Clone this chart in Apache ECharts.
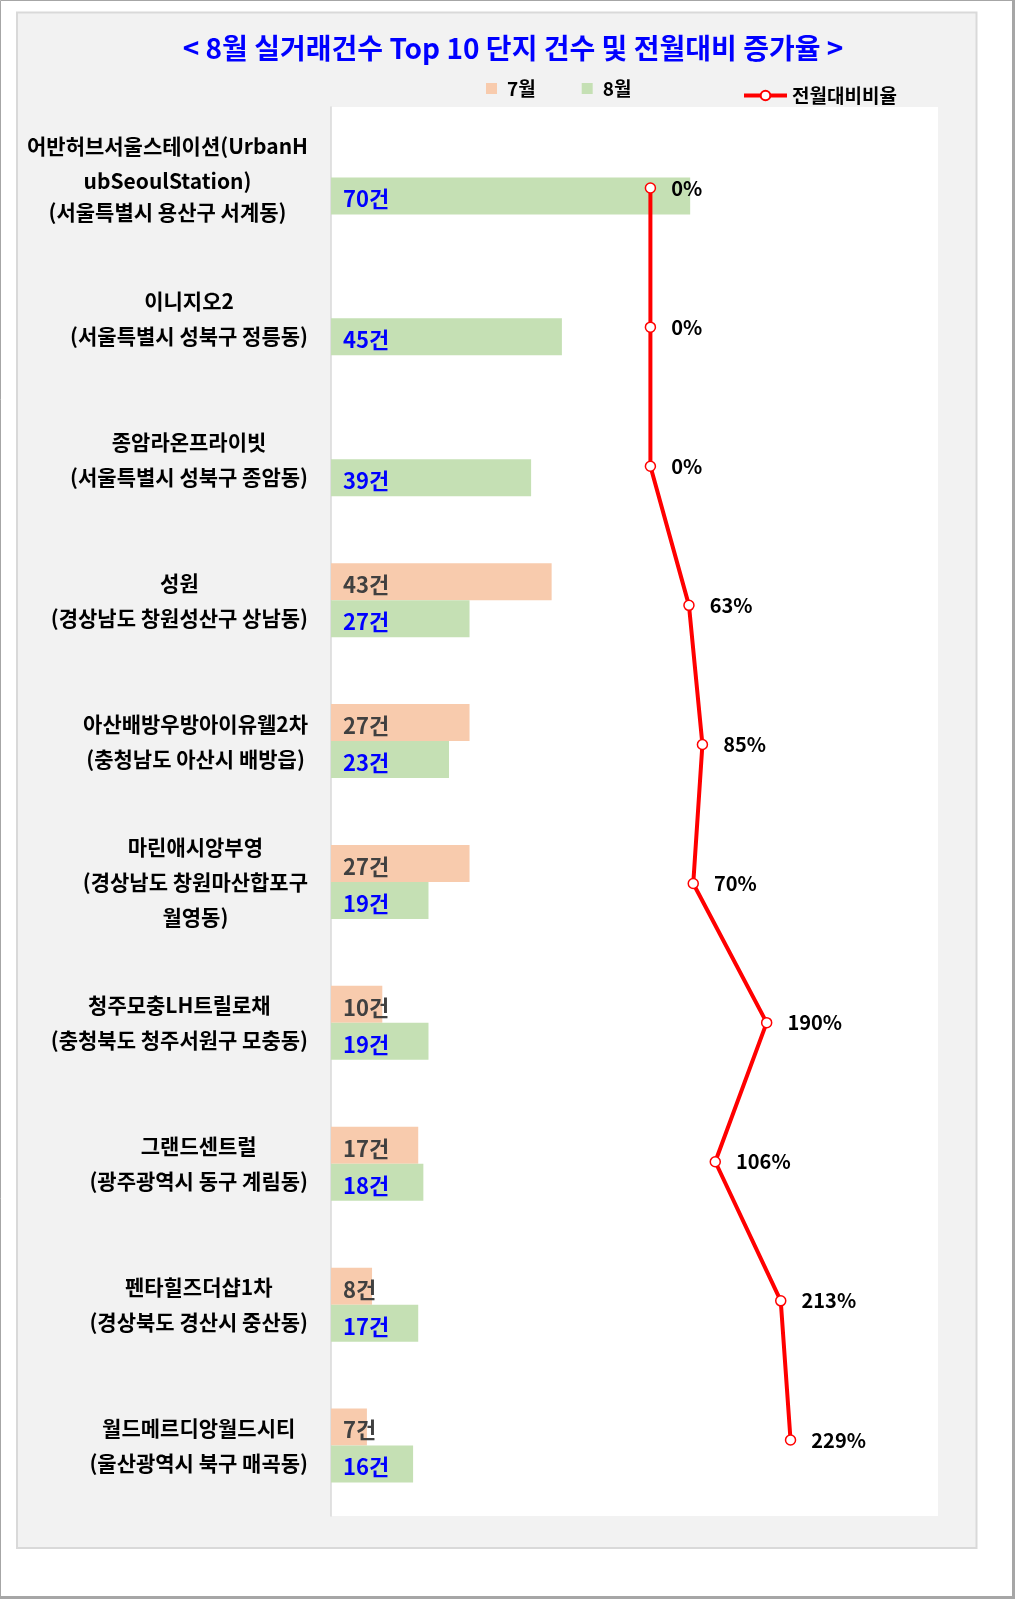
<!DOCTYPE html>
<html>
<head>
<meta charset="utf-8">
<script src="https://cdn.jsdelivr.net/npm/echarts@6/dist/echarts.min.js"></script>
<style>
	body { margin: 0; background: #fff; }
	#chart { width: 1015px; height: 1599px; }
</style>
</head>
<body>
<div id="chart"></div>
<script>
var complexes = [
	'어반허브서울스테이션(UrbanH\nubSeoulStation)\n(서울특별시 용산구 서계동)',
	'이니지오2\n(서울특별시 성북구 정릉동)',
	'종암라온프라이빗\n(서울특별시 성북구 종암동)',
	'성원\n(경상남도 창원성산구 상남동)',
	'아산배방우방아이유웰2차\n(충청남도 아산시 배방읍)',
	'마린애시앙부영\n(경상남도 창원마산합포구\n월영동)',
	'청주모충LH트릴로채\n(충청북도 청주서원구 모충동)',
	'그랜드센트럴\n(광주광역시 동구 계림동)',
	'펜타힐즈더샵1차\n(경상북도 경산시 중산동)',
	'월드메르디앙월드시티\n(울산광역시 북구 매곡동)'
];
var julyCounts = [null, null, null, 43, 27, 27, 10, 17, 8, 7];
var augCounts = [70, 45, 39, 27, 23, 19, 19, 18, 17, 16];
var ratePct = [0, 0, 0, 63, 85, 70, 190, 106, 213, 229];

var font = '"Noto Sans CJK KR", "Noto Sans", sans-serif';

var myChart = echarts.init(document.getElementById('chart'));

var option = {
	animation: false,
	textStyle: { fontFamily: font },
	graphic: [
		// 바깥 테두리
		{ type: 'rect', z: -10, shape: { x: 0.5, y: 0.5, width: 1013, height: 1597 },
			style: { fill: '#fff', stroke: '#A6A6A6', lineWidth: 1 } },
		{ type: 'rect', z: -9, shape: { x: 1012, y: 0, width: 3, height: 1599 }, style: { fill: '#A6A6A6' } },
		{ type: 'rect', z: -9, shape: { x: 0, y: 1596, width: 1015, height: 3 }, style: { fill: '#A6A6A6' } },
		// 회색 패널
		{ type: 'rect', z: -8, shape: { x: 17, y: 12.5, width: 959.5, height: 1535.5 },
			style: { fill: '#F2F2F2', stroke: '#D9D9D9', lineWidth: 2 } }
	],
	title: {
		text: '< 8월 실거래건수 Top 10 단지 건수 및 전월대비 증가율 >',
		left: 513,
		top: 34,
		padding: 0,
		textAlign: 'center',
		textStyle: {
			fontFamily: font,
			fontSize: 28,
			fontWeight: 'bold',
			color: '#0000FF'
		}
	},
	legend: [{
		data: ['7월', '8월'],
		left: 486,
		top: 79,
		padding: 0,
		icon: 'rect',
		itemWidth: 11,
		itemHeight: 11,
		itemGap: 46,
		textStyle: {
			fontFamily: font,
			fontSize: 19,
			fontWeight: 'bold',
			color: '#000',
			padding: [0, 0, 0, 5]
		}
	}, {
		data: ['전월대비비율'],
		left: 742,
		top: 86,
		padding: 0,
		itemWidth: 43,
		itemHeight: 12,
		lineStyle: { width: 4 },
		itemStyle: { borderWidth: 2 },
		textStyle: {
			fontFamily: font,
			fontSize: 19,
			fontWeight: 'bold',
			color: '#000'
		}
	}],
	grid: [{
		left: 331,
		top: 107,
		width: 607,
		height: 1409,
		show: true,
		backgroundColor: '#fff',
		borderWidth: 0
	}, {
		left: 331,
		top: 118.5,
		width: 607,
		height: 1391
	}],
	xAxis: [{
		type: 'value',
		gridIndex: 0,
		min: 0,
		max: 118.3,
		show: false
	}, {
		type: 'value',
		gridIndex: 1,
		min: -522,
		max: 470,
		show: false
	}],
	yAxis: [{
		type: 'category',
		gridIndex: 0,
		inverse: true,
		data: complexes,
		axisLine: { lineStyle: { color: '#D9D9D9', width: 1.5 } },
		axisTick: { show: false },
		axisLabel: {
			interval: 0,
			margin: 23,
			formatter: function(value, idx) {
				if (idx === 0) {
					// 첫 항목은 줄 간격이 좁고 첫 줄만 조금 떨어져 있음
					var lines = value.split('\n');
					return lines.map(function(s, k) {
						return (k === 0 ? '{t1|' : '{t|') + s + '}';
					}).join('\n');
				}
				return '{n|' + value + '}';
			},
			rich: {
				t1: { align: 'center', fontFamily: font, fontSize: 21, fontWeight: 'bold', color: '#000', lineHeight: 39 },
				t: { align: 'center', fontFamily: font, fontSize: 21, fontWeight: 'bold', color: '#000', lineHeight: 31 },
				n: { align: 'center', fontFamily: font, fontSize: 21, fontWeight: 'bold', color: '#000', lineHeight: 35 }
			}
		}
	}, {
		type: 'category',
		gridIndex: 1,
		inverse: true,
		data: complexes,
		show: false
	}],
	series: [{
		name: '7월',
		type: 'bar',
		xAxisIndex: 0,
		yAxisIndex: 0,
		barWidth: 37,
		barGap: '0%',
		itemStyle: { color: '#F8CBAD' },
		label: {
			show: true,
			position: 'insideLeft',
			distance: 12,
			offset: [0, 3],
			formatter: '{c}건',
			fontFamily: font,
			fontSize: 22,
			fontWeight: 'bold',
			color: '#404040'
		},
		data: julyCounts
	}, {
		name: '8월',
		type: 'bar',
		xAxisIndex: 0,
		yAxisIndex: 0,
		barWidth: 37,
		barGap: '0%',
		itemStyle: { color: '#C5E0B4' },
		label: {
			show: true,
			position: 'insideLeft',
			distance: 12,
			offset: [0, 3],
			formatter: '{c}건',
			fontFamily: font,
			fontSize: 22,
			fontWeight: 'bold',
			color: '#0000FF'
		},
		data: augCounts
	}, {
		name: '전월대비비율',
		type: 'line',
		xAxisIndex: 1,
		yAxisIndex: 1,
		symbol: 'circle',
		symbolSize: 10,
		itemStyle: { color: '#fff', borderColor: '#FF0000', borderWidth: 1.5 },
		lineStyle: { color: '#FF0000', width: 4 },
		label: {
			show: true,
			position: 'right',
			distance: 15,
			formatter: '{c}%',
			fontFamily: font,
			fontSize: 20,
			fontWeight: 'bold',
			color: '#000'
		},
		data: ratePct
	}]
};

myChart.setOption(option);
</script>
</body>
</html>
